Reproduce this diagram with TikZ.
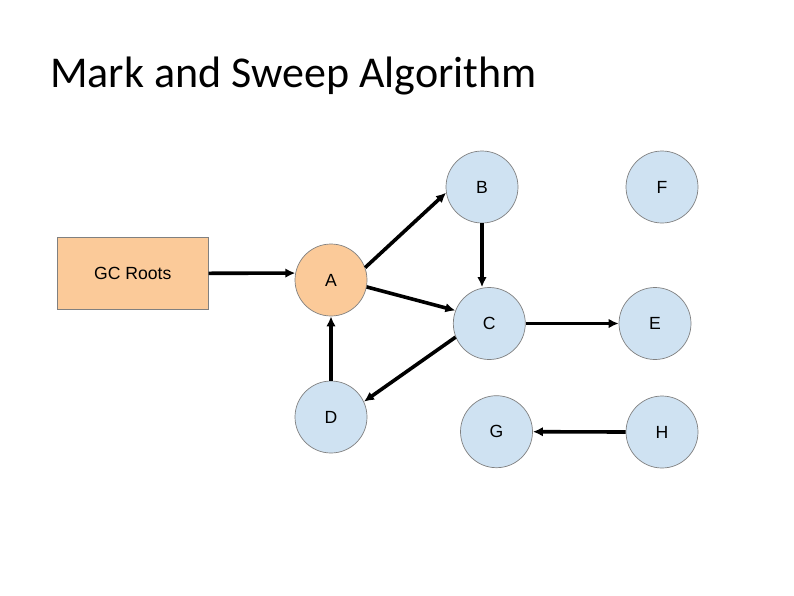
\documentclass[tikz,border=0pt]{standalone}
\usepackage{fontspec}
\setmainfont{Liberation Sans}
\newfontfamily\titlefont{Carlito}
\usetikzlibrary{arrows.meta}
\definecolor{orangefill}{RGB}{251,202,153}
\definecolor{bluefill}{RGB}{207,226,242}
\definecolor{edgegray}{RGB}{128,128,128}
\begin{document}
\begin{tikzpicture}[x=1pt,y=-1pt,
  objnode/.style={circle,draw=edgegray,line width=0.7pt,minimum size=72pt,inner sep=0pt,font=\fontsize{17.6}{20}\selectfont},
  bluenode/.style={objnode,fill=bluefill},
  orangenode/.style={objnode,fill=orangefill},
  rootbox/.style={rectangle,draw=edgegray,line width=0.7pt,fill=orangefill,minimum width=151pt,minimum height=72pt,inner sep=0pt,font=\fontsize{17.6}{20}\selectfont},
  ref/.style={line width=3.6pt,-{Latex[length=10pt,width=9.5pt]}}]
\useasboundingbox (0,0) rectangle (794,595);
\fill[white] (0,0) rectangle (794,595);
\node[anchor=base west,inner sep=0pt,font=\titlefont\fontsize{44}{50}\selectfont] (title) at (50,87.7) {Mark and Sweep Algorithm};
\node[rootbox] (roots) at (132.8,273.3) {GC Roots};
\node[orangenode] (A) at (331,280) {A};
\node[bluenode] (B) at (482,187) {B};
\node[bluenode] (F) at (662,187) {F};
\node[bluenode] (C) at (489.3,323.5) {C};
\node[bluenode] (E) at (655,323.5) {E};
\node[bluenode] (D) at (331,417) {D};
\node[bluenode] (G) at (496.5,431.7) {G};
\node[bluenode] (H) at (662,432) {H};
\draw[ref] (roots.east) -- (A.169);
\draw[ref] (A.20) -- (B.189);
\draw[ref] (A.-11) -- (C.159);
\draw[ref] (B.south) -- (C.north -| B.south);
\draw[ref] (C.east) -- (E.west);
\draw[ref] (C.202) -- (D.25);
\draw[ref] (D.north) -- (A.south);
\draw[ref] (H.west) -- (G.east);
\end{tikzpicture}
\end{document}
